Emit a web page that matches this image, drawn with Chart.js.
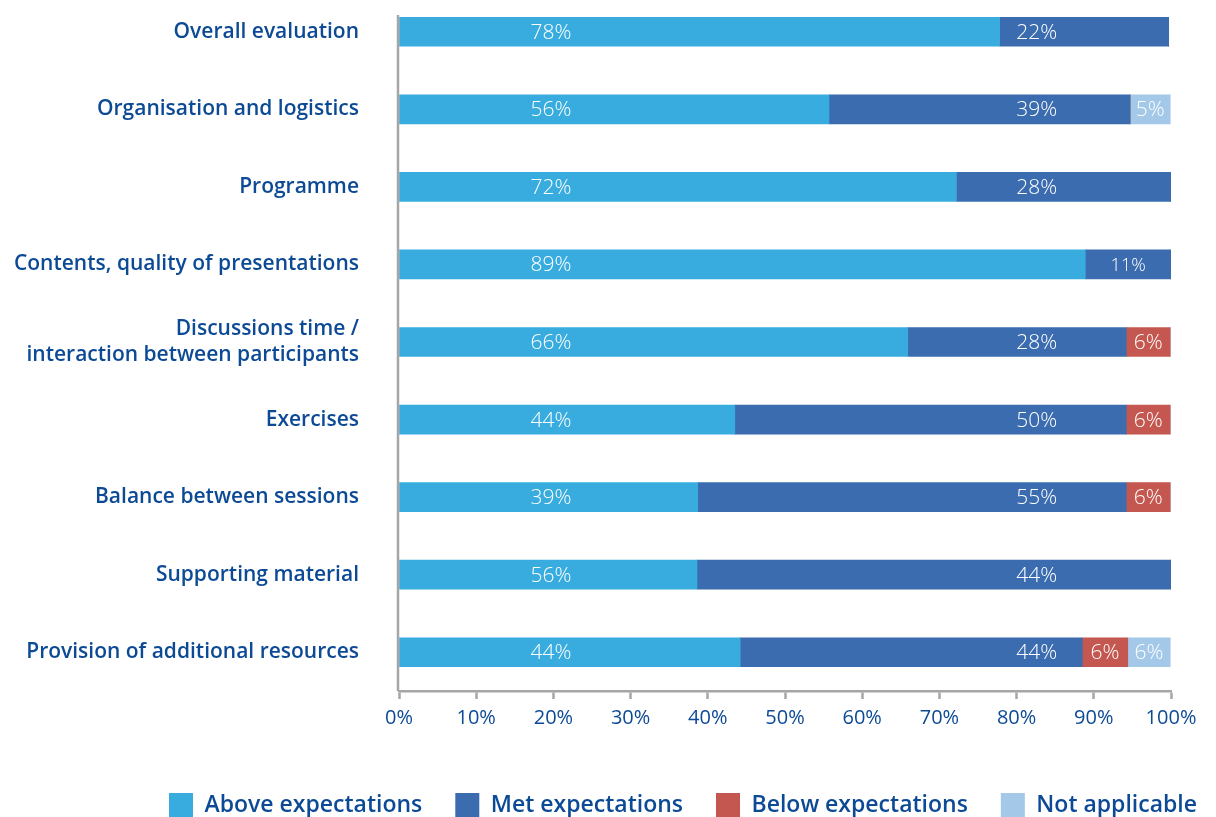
<!DOCTYPE html>
<html>
<head>
<meta charset="utf-8">
<script src="https://cdn.jsdelivr.net/npm/chart.js@4.4.0/dist/chart.umd.min.js"></script>
<style>
  html, body { margin: 0; padding: 0; background: #fff; overflow: hidden; }
  /* chart area starts slightly above the page top, as in the original */
  #wrap { width: 1216px; height: 824px; position: relative; margin-top: -7px; }
</style>
</head>
<body>
<div id="wrap"><canvas id="chart"></canvas></div>
<script>
// Categories (top to bottom)
const categories = [
    'Overall evaluation',
    'Organisation and logistics',
    'Programme',
    'Contents, quality of presentations',
    ['Discussions time /', 'interaction between participants'],
    'Exercises',
    'Balance between sessions',
    'Supporting material',
    'Provision of additional resources'
];
const seriesNames = ['Above expectations', 'Met expectations', 'Below expectations', 'Not applicable'];

// Bar lengths as drawn (percent)
const above = [77.8, 55.7, 72.2, 88.9, 65.9, 43.5, 38.7, 38.6, 44.2];
const met   = [21.9, 39.0, 27.8, 11.1, 28.3, 50.7, 55.5, 61.4, 44.3];
const below = [0, 0, 0, 0, 5.7, 5.7, 5.7, 0, 5.9];
const na    = [0, 5.2, 0, 0, 0, 0, 0, 0, 5.5];

// Printed labels (percent)
const aboveTxt = [78, 56, 72, 89, 66, 44, 39, 56, 44];
const metTxt   = [22, 39, 28, 11, 28, 50, 55, 44, 44];
const belowTxt = [null, null, null, null, 6, 6, 6, null, 6];
const naTxt    = [null, 5, null, null, null, null, null, null, 6];

const xTicks = [0, 10, 20, 30, 40, 50, 60, 70, 80, 90, 100];

const colors = ['#38acdf', '#3a6caf', '#c4574f', '#a3c8e8'];
const navy = '#0d4a96';
const axisGrey = '#a6a6a6';

const texts = [aboveTxt, metTxt, belowTxt, naTxt];
// where the labels of the first two series sit (value units), else centred
const labelAnchor = [19.7, 82.6, null, null];

const barLabels = {
    id: 'barLabels',
    beforeDraw(chart) {
        // push the legend out to the right edge like the original
        const lg = chart.legend;
        if (lg && !lg._shifted) {
            const dx = chart.width + 14 - lg.right;
            lg.left += dx;
            lg.right += dx;
            lg.top += 10;
            lg.bottom += 10;
            lg._shifted = true;
        }
    },
    afterDatasetsDraw(chart) {
        const ctx = chart.ctx;
        const xs = chart.scales.x;
        ctx.save();
        ctx.fillStyle = '#fff';
        ctx.textAlign = 'center';
        ctx.textBaseline = 'middle';
        chart.data.datasets.forEach((ds, di) => {
            const meta = chart.getDatasetMeta(di);
            meta.data.forEach((bar, i) => {
                const t = texts[di][i];
                if (t == null) return;
                const x0 = bar.base, x1 = bar.x;
                let x = (x0 + x1) / 2;
                const a = labelAnchor[di];
                if (a != null) {
                    const ax = xs.getPixelForValue(a);
                    if (ax > x0 + 25 && ax < x1 - 25) x = ax;
                }
                ctx.font = (t < 12 && di === 1 ? '300 18px' : '300 21px') + ' "Open Sans", sans-serif';
                ctx.fillText(t + '%', x, bar.y + 1);
            });
        });
        ctx.restore();
    }
};

const yAxisLine = {
    id: 'yAxisLine',
    afterDraw(chart) {
        const ctx = chart.ctx;
        const x = chart.scales.x.getPixelForValue(0) - 1;
        ctx.save();
        ctx.strokeStyle = axisGrey;
        ctx.lineWidth = 2.5;
        ctx.beginPath();
        ctx.moveTo(x, 22);
        ctx.lineTo(x, chart.chartArea.bottom);
        ctx.stroke();
        ctx.restore();
    }
};

const sets = [above, met, below, na].map((d, i) => ({
    label: seriesNames[i],
    data: d,
    backgroundColor: colors[i],
    borderWidth: 0,
    barThickness: 29
}));

new Chart(document.getElementById('chart'), {
    type: 'bar',
    data: { labels: categories, datasets: sets },
    options: {
        indexAxis: 'y',
        responsive: true,
        maintainAspectRatio: false,
        animation: false,
        layout: { padding: { top: 0, right: 45, left: 0, bottom: 0 } },
        plugins: {
            legend: {
                position: 'bottom',
                align: 'end',
                labels: {
                    boxWidth: 24,
                    boxHeight: 24,
                    padding: 33,
                    color: navy,
                    font: { family: '"Open Sans", sans-serif', size: 23, weight: '600' }
                }
            },
            tooltip: { enabled: false }
        },
        scales: {
            x: {
                stacked: true,
                min: 0,
                max: 100,
                afterBuildTicks(scale) {
                    scale.ticks = xTicks.map(v => ({ value: v }));
                },
                afterFit(scale) { scale.height = 59; },
                grid: {
                    display: true,
                    drawOnChartArea: false,
                    drawTicks: true,
                    tickLength: 8,
                    tickWidth: 2.5,
                    tickColor: axisGrey
                },
                border: { display: true, color: axisGrey, width: 2.5 },
                ticks: {
                    padding: 7,
                    color: navy,
                    font: { family: '"Open Sans", sans-serif', size: 20, weight: '400' },
                    callback: v => v + '%'
                }
            },
            y: {
                stacked: true,
                afterFit(scale) {
                    scale.width = 399;
                    scale.paddingTop = 0;
                },
                grid: {
                    display: true,
                    drawOnChartArea: false,
                    drawTicks: true,
                    tickLength: 40,
                    tickColor: 'rgba(0,0,0,0)'
                },
                border: { display: false },
                ticks: {
                    padding: 0,
                    color: navy,
                    font: { family: '"Open Sans", sans-serif', size: 21, weight: '600' }
                }
            }
        }
    },
    plugins: [barLabels, yAxisLine]
});
</script>
</body>
</html>
